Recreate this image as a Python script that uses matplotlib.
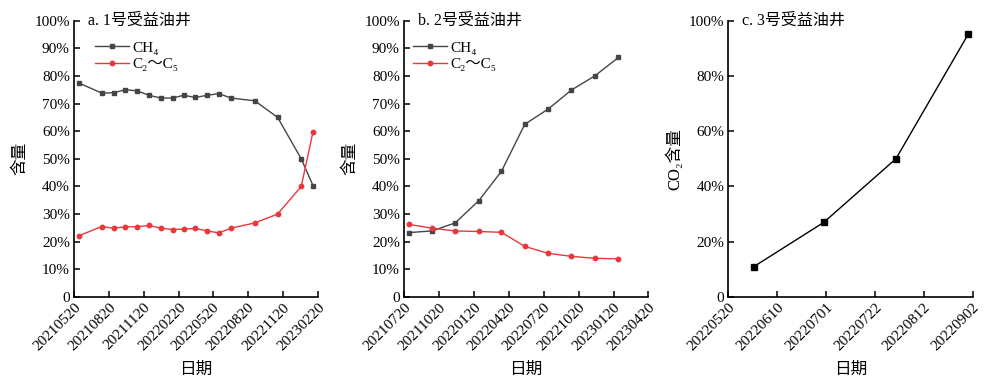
import matplotlib
matplotlib.use("Agg")
import matplotlib.pyplot as plt
from matplotlib.ticker import FuncFormatter, MultipleLocator
import pandas as pd

FONTS = ["Liberation Serif", "Noto Sans CJK SC", "DejaVu Sans"]
plt.rcParams["font.family"] = FONTS
plt.rcParams["font.size"] = 11

# panel a: 1号受益油井
a_dates = ["2021-06-01", "2021-08-01", "2021-09-01", "2021-10-02", "2021-11-02",
           "2021-12-03", "2022-01-03", "2022-02-03", "2022-03-04", "2022-04-04",
           "2022-05-05", "2022-06-05", "2022-07-06", "2022-09-07", "2022-11-06",
           "2023-01-07", "2023-02-07"]
a_ch4 = [77.5, 73.8, 73.9, 75.0, 74.6, 73.0, 72.0, 72.0, 73.0, 72.2,
         73.0, 73.6, 72.0, 71.0, 65.0, 50.0, 40.3]
a_c2c5 = [22.1, 25.5, 24.9, 25.4, 25.4, 25.9, 24.9, 24.4, 24.6, 24.8,
          23.9, 23.2, 24.9, 26.8, 30.0, 40.0, 59.8]
a_ticks = ["20210520", "20210820", "20211120", "20220220",
           "20220520", "20220820", "20221120", "20230220"]

# panel b: 2号受益油井
b_dates = ["2021-08-01", "2021-10-01", "2021-12-01", "2022-02-01", "2022-04-01",
           "2022-06-01", "2022-08-01", "2022-10-01", "2022-12-01", "2023-02-01"]
b_ch4 = [23.3, 23.9, 26.8, 34.9, 45.5, 62.5, 68.0, 74.9, 80.0, 86.7]
b_c2c5 = [26.3, 24.9, 23.9, 23.7, 23.4, 18.3, 15.8, 14.7, 14.0, 13.8]
b_ticks = ["20210720", "20211020", "20220120", "20220420",
           "20220720", "20221020", "20230120", "20230420"]

# panel c: 3号受益油井
c_dates = ["2022-05-31", "2022-06-30", "2022-07-31", "2022-08-31"]
c_co2 = [11.0, 27.0, 50.0, 95.0]
c_ticks = ["20220520", "20220610", "20220701", "20220722", "20220812", "20220902"]

GRAY = "#454545"
RED = "#e8383d"

fig = plt.figure(figsize=(9.94, 3.87), dpi=100)
axes = [fig.add_axes([0.0744, 0.2326, 0.2455, 0.714]),
        fig.add_axes([0.4064, 0.2326, 0.2458, 0.714]),
        fig.add_axes([0.7327, 0.2326, 0.2459, 0.714])]

pct = FuncFormatter(lambda v, pos: "0" if abs(v) < 1e-9 else f"{v:.0f}%")


def style(ax, ticks, title, ylabel, ystep):
    t = pd.to_datetime(ticks, format="%Y%m%d")
    ax.set_xlim(t[0], t[-1])
    ax.set_xticks(t)
    ax.set_xticklabels(ticks, rotation=45, ha="right", rotation_mode="anchor")
    ax.set_ylim(0, 100)
    ax.yaxis.set_major_locator(MultipleLocator(ystep))
    ax.yaxis.set_major_formatter(pct)
    for s in ["top", "right"]:
        ax.spines[s].set_visible(False)
    for s in ["left", "bottom"]:
        ax.spines[s].set_linewidth(1.2)
    ax.tick_params(direction="in", length=4, width=1.1, labelsize=11, pad=3)
    ax.set_xlabel("日期", fontsize=12, labelpad=6)
    ax.set_ylabel(ylabel, fontsize=12, labelpad=4)
    ax.text(0.057, 1.0, title, transform=ax.transAxes, ha="left", va="center",
            fontsize=11.5)


ax = axes[0]
ax.plot(pd.to_datetime(a_dates), a_ch4, "-s", color=GRAY, lw=1, ms=3, label="CH₄")
ax.plot(pd.to_datetime(a_dates), a_c2c5, "-o", color=RED, lw=1, ms=3.2, label="C₂～C₅")
style(ax, a_ticks, "a. 1号受益油井", "含量", 10)

ax = axes[1]
ax.plot(pd.to_datetime(b_dates), b_ch4, "-s", color=GRAY, lw=1, ms=3, label="CH₄")
ax.plot(pd.to_datetime(b_dates), b_c2c5, "-o", color=RED, lw=1, ms=3.2, label="C₂～C₅")
style(ax, b_ticks, "b. 2号受益油井", "含量", 10)

for ax, x0 in [(axes[0], 0.05), (axes[1], 0.0)]:
    ax.legend(loc="upper left", bbox_to_anchor=(x0, 0.96), frameon=False,
              fontsize=11, handlelength=2.2, handletextpad=0.25,
              labelspacing=0.2, borderaxespad=0.2)

ax = axes[2]
ax.plot(pd.to_datetime(c_dates), c_co2, "-s", color="black", lw=1, ms=4.5)
style(ax, c_ticks, "c. 3号受益油井", "CO₂含量", 20)

fig.savefig("out.png", dpi=100)
